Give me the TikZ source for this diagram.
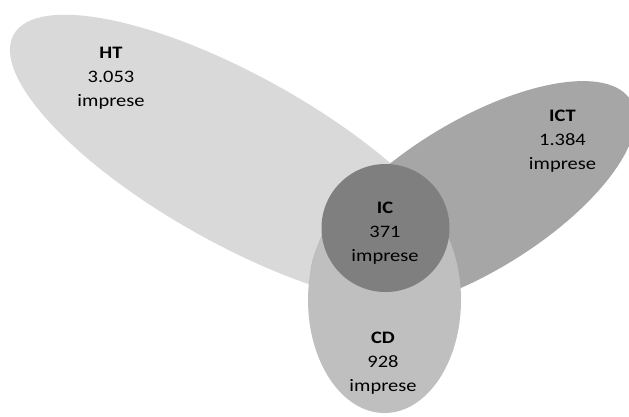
\documentclass[tikz,border=0pt]{standalone}
\usepackage{fontspec}
\setmainfont{Carlito}[FakeStretch=1.17]
\definecolor{htc}{HTML}{D9D9D9}
\definecolor{ictc}{HTML}{A6A6A6}
\definecolor{cdc}{HTML}{BFBFBF}
\definecolor{icc}{HTML}{7F7F7F}
\begin{document}
\begin{tikzpicture}[x=1pt,y=-1pt,
  lbl/.style={align=center, inner sep=0pt, anchor=north, text=black,
    font=\fontsize{17.5}{24}\selectfont}]
\useasboundingbox (0,0) rectangle (629,416);
\clip (0,0) rectangle (629,416);
\fill[htc, rotate around={-29.2:(238,160)}] (238,160) ellipse [x radius=257, y radius=84];
\fill[ictc, rotate around={31.5:(473,197)}] (473,197) ellipse [x radius=185, y radius=75];
\fill[cdc] (384.5,300) ellipse [x radius=76.5, y radius=113];
\fill[icc] (385.5,228) circle [radius=64];
\node[lbl] (ht) at (111,46.6) {\textbf{HT}\\3.053\\imprese};
\node[lbl] (ict) at (562.5,109.5) {\textbf{ICT}\\1.384\\imprese};
\node[lbl] (ic) at (385,202.3) {\textbf{IC}\\371\\imprese};
\node[lbl] (cd) at (383,331.7) {\textbf{CD}\\928\\imprese};
\end{tikzpicture}
\end{document}
